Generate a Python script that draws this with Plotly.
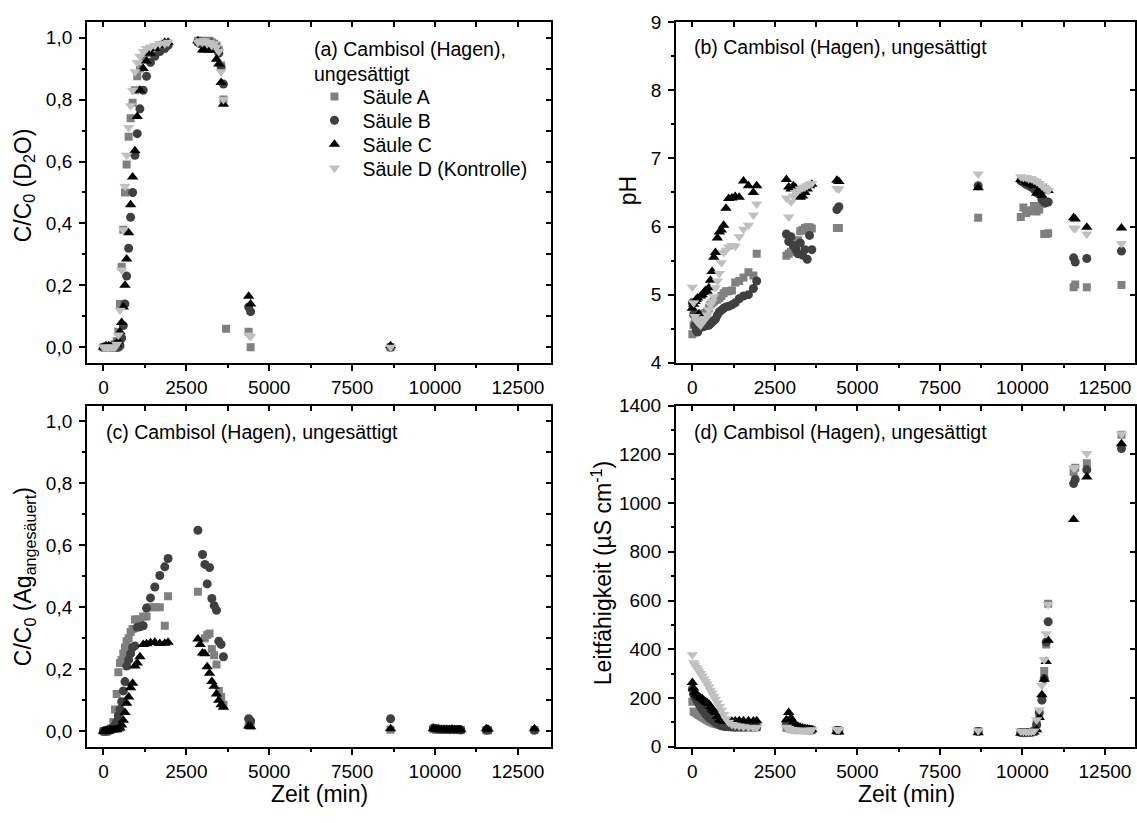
import plotly.graph_objects as go

# ---------------------------------------------------------------------------
# Sampling times (min), shared by the four columns
# ---------------------------------------------------------------------------
t_early = [0, 40, 80, 120, 160, 200, 250, 300, 350, 400, 450, 500, 550, 600, 650,
           700, 760, 820, 880, 950, 1020, 1100, 1200, 1300, 1420, 1550, 1700, 1850, 1950]
t_mid = [2850, 2920, 2990, 3060, 3130, 3200, 3270, 3340, 3410, 3480, 3550, 3620]
t_late = [3700, 4380, 4440, 8660, 9950, 10030, 10110, 10190, 10270, 10350, 10430,
          10510, 10590, 10660, 10720, 10780, 11550, 11600, 11950, 13000]
zeit = t_early + t_mid + t_late

N = None

# (a) D2O breakthrough, C/C0
d2o_A = [0.0, 0.0, 0.0, 0.0, 0.0, 0.0, 0.0, 0.005, 0.01, 0.02, 0.05, 0.14, 0.26, 0.38, 0.50,
         0.59, 0.68, 0.74, 0.79, 0.83, 0.875, 0.90, 0.93, 0.95, 0.96, 0.97, 0.975, 0.98, 0.98,
         0.99, 0.985, 0.99, 0.98, 0.985, 0.99, 0.985, 0.98, 0.975, 0.96, 0.91, 0.80,
         0.06, 0.05, 0.0, 0.0, N, N, N, N, N, N, N, N, N, N, N, N, N, N, N, N]
d2o_B = [0.0, 0.0, 0.0, 0.0, 0.0, 0.0, 0.0, 0.0, 0.0, 0.0, 0.0, 0.005, 0.03, 0.07, 0.14,
         0.23, 0.32, 0.42, 0.50, 0.62, 0.69, 0.77, 0.83, 0.875, 0.92, 0.94, 0.955, 0.965, 0.975,
         0.985, 0.98, 0.985, 0.98, 0.975, 0.985, 0.98, 0.975, 0.97, 0.95, 0.905, 0.85,
         N, 0.13, 0.115, 0.0, N, N, N, N, N, N, N, N, N, N, N, N, N, N, N, N]
d2o_C = [0.0, 0.0, 0.005, 0.0, 0.005, 0.0, 0.005, 0.005, 0.01, 0.01, 0.02, 0.05, 0.08, 0.13, 0.20,
         0.285, 0.37, 0.46, 0.55, 0.635, 0.745, 0.83, 0.90, 0.925, 0.95, 0.965, 0.975, 0.985, 0.985,
         0.99, 0.985, 0.96, 0.96, 0.965, 0.96, 0.96, 0.96, 0.93, 0.915, 0.855, 0.785,
         N, 0.165, 0.14, 0.005, N, N, N, N, N, N, N, N, N, N, N, N, N, N, N, N]
d2o_D = [0.0, 0.0, 0.0, 0.0, 0.0, 0.0, 0.0, 0.0, 0.0, 0.01, 0.04, 0.12, 0.25, 0.38, 0.52,
         0.62, 0.71, 0.78, 0.83, 0.89, 0.92, 0.94, 0.955, 0.965, 0.97, 0.975, 0.98, 0.98, 0.985,
         0.985, 0.99, 0.985, 0.99, 0.98, 0.985, 0.975, 0.98, 0.97, 0.955, 0.89, 0.80,
         N, 0.04, 0.035, 0.0, N, N, N, N, N, N, N, N, N, N, N, N, N, N, N, N]

# (b) pH
ph_A = [4.42, 4.55, 4.60, 4.62, 4.65, 4.60, 4.66, 4.70, 4.72, 4.73, 4.75, 4.80, 4.85, 4.88, 4.90,
        4.92, 4.93, 4.95, 4.98, 5.02, 5.05, 5.05, 5.06, 5.18, 5.20, 5.25, 5.33, 5.28, 5.60,
        5.57, 5.60, 5.63, 5.65, 5.74, 5.80, 5.93, 5.95, 5.98, 5.99, 5.99, 5.97,
        N, 5.98, 5.98, 6.13, 6.14, 6.28, 6.20, 6.22, 6.24, 6.30, 6.22, 6.25, 6.33, 5.89, 5.89,
        5.90, 5.11, 5.15, 5.11, 5.14]
ph_B = [4.88, 4.71, 4.55, 4.48, 4.45, 4.50, 4.52, 4.55, 4.53, 4.55, 4.55, 4.55, 4.57, 4.60, 4.62,
        4.64, 4.70, 4.75, 4.77, 4.80, 4.82, 4.83, 4.85, 4.88, 4.94, 4.98, 5.00, 5.09, 5.20,
        5.89, 5.78, 5.85, 5.72, 5.67, 5.60, 5.76, 5.58, 5.66, 5.52, 5.87, 5.66,
        N, 6.25, 6.29, 6.60, 6.67, 6.65, 6.62, 6.60, 6.58, 6.55, 6.50, 6.48, 6.40, 6.36, 6.35,
        6.36, 5.54, 5.48, 5.53, 5.64]
ph_C = [4.80, 4.86, 4.90, 4.93, 4.95, 4.72, 4.98, 5.00, 5.03, 5.06, 5.05, 5.10, 5.21, 5.34, 5.55,
        5.62, 5.83, 5.92, 5.95, 6.02, 6.27, 6.41, 6.42, 6.44, 6.43, 6.67, 6.60, 6.50, 6.60,
        6.69, 6.58, 6.55, 6.60, 6.57, 6.52, 6.43, 6.45, 6.50, 6.55, 6.60, 6.62,
        N, 6.68, 6.66, 6.57, 6.69, 6.68, 6.65, 6.63, 6.62, 6.60, 6.49, 6.55, 6.46, 6.52, 6.55,
        6.53, 6.13, 6.11, 5.99, 5.98]
ph_D = [5.11, 4.88, 4.68, 4.62, 4.60, 4.58, 4.55, 4.60, 4.64, 4.65, 4.70, 4.78, 4.85, 4.90, 4.97,
        5.10, 5.20, 5.31, 5.47, 5.62, 5.65, 5.70, 5.72, 5.71, 5.85, 5.96, 6.02, 6.17, 6.33,
        6.42, 6.14, 6.36, 6.45, 6.50, 6.52, 6.55, 6.57, 6.58, 6.60, 6.62, 6.63,
        N, 6.56, 6.55, 6.77, 6.73, 6.72, 6.72, 6.70, 6.70, 6.68, 6.66, 6.63, 6.60, 6.57, 6.55,
        6.53, 5.98, 5.97, 5.89, 5.75]

# (c) Ag (acidified), C/C0
ag_A = [0.0, 0.0, 0.0, 0.0, 0.003, 0.005, 0.01, 0.03, 0.07, 0.12, 0.19, 0.22, 0.23, 0.25, 0.27,
        0.29, 0.30, 0.32, 0.33, 0.36, 0.36, 0.36, 0.37, 0.37, 0.40, 0.40, 0.40, 0.34, 0.435,
        0.45, N, N, 0.30, 0.31, 0.315, 0.265, 0.245, 0.215, 0.13, 0.11, 0.085,
        N, 0.02, 0.018, 0.005, 0.006, 0.005, 0.005, 0.004, 0.004, 0.005, 0.004, 0.004, 0.005,
        0.004, 0.004, 0.004, 0.003, 0.003, N, 0.004]
ag_B = [0.0, 0.0, 0.003, 0.0, 0.005, 0.005, 0.008, 0.01, 0.02, 0.03, 0.05, 0.07, 0.095, 0.13, 0.16,
        0.21, 0.23, 0.25, 0.27, 0.275, 0.335, 0.337, 0.34, 0.397, 0.43, 0.465, 0.502, 0.53, 0.557,
        0.648, N, 0.57, 0.538, 0.475, 0.528, 0.428, 0.405, 0.39, 0.29, 0.28, 0.24,
        N, 0.04, 0.033, 0.04, 0.01, 0.008, 0.007, 0.006, 0.006, 0.006, 0.005, 0.006, 0.005,
        0.005, 0.005, 0.004, 0.004, 0.004, N, 0.003]
ag_C = [0.0, 0.0, 0.0, 0.003, 0.0, 0.005, 0.005, 0.005, 0.005, 0.005, 0.008, 0.01, 0.02, 0.035, 0.06,
        0.09, 0.11, 0.14, 0.155, 0.21, 0.22, 0.24, 0.28, 0.282, 0.285, 0.287, 0.283, 0.284, 0.287,
        0.297, 0.28, 0.252, 0.25, 0.208, 0.187, 0.16, 0.145, 0.12, 0.10, 0.085, 0.077,
        N, 0.017, 0.014, 0.008, 0.008, 0.007, 0.006, 0.005, 0.005, 0.005, 0.005, 0.006, 0.005,
        0.005, 0.005, 0.005, 0.008, 0.006, N, 0.008]

# (d) electrical conductivity (µS/cm)
ec_A = [185, 145, 142, 138, 134, 130, 126, 122, 118, 114, 110, 106, 102, 99, 96,
        94, 92, 90, 88, 86, 85, 84, 83, 82, 81, 80, 80, 80, 80,
        78, 76, 74, 72, 71, 70, 70, 69, 69, 68, 68, 68,
        N, 67, 66, 64, 60, 59, 58, 58, 59, 62, 95, 130, 200, 311, 420, 587, 1128, 1145, 1164, 1280]
ec_B = [236, 215, 205, 195, 185, 175, 165, 155, 145, 135, 127, 120, 115, 110, 105,
        100, 95, 90, 86, 84, 83, 82, 81, 80, 80, 80, 80, 80, 81,
        95, 92, 88, 84, 80, 77, 75, 73, 72, 72, 71, 70,
        N, 68, 67, 62, 58, 57, 57, 58, 59, 65, 90, 140, 191, 280, 430, 513, 1080, 1097, 1137, 1224]
ec_C = [264, 240, 224, 215, 210, 205, 200, 197, 190, 185, 180, 175, 165, 155, 148,
        140, 125, 111, 108, 105, 104, 104, 105, 106, 107, 107, 107, 106, 107,
        111, 140, 118, 100, 90, 84, 80, 77, 75, 73, 72, 70,
        N, 62, 60, 57, 55, 54, 54, 55, 56, 60, 70, 120, 213, 277, 350, 437, 933, N, 1107, 1244]
ec_D = [377, 345, 335, 325, 318, 310, 300, 290, 278, 268, 257, 245, 232, 220, 207,
        195, 180, 165, 150, 132, 115, 100, 91, 88, 85, 82, 79, 78, 79,
        80, 75, 71, 70, 69, 68, 68, 67, 67, 68, 68, 70,
        N, 71, 70, 66, 63, 62, 61, 61, 62, 64, 111, 151, 251, 357, 464, 584, 1144, 1146, 1204, 1284]

# Tick values and labels
x_tickvals = [0, 2500, 5000, 7500, 10000, 12500]
x_ticktext = ["0", "2500", "5000", "7500", "10000", "12500"]
c_tickvals = [0.0, 0.2, 0.4, 0.6, 0.8, 1.0]
c_ticktext = ["0,0", "0,2", "0,4", "0,6", "0,8", "1,0"]
ph_tickvals = [4, 5, 6, 7, 8, 9]
ph_ticktext = ["4", "5", "6", "7", "8", "9"]
ec_tickvals = [0, 200, 400, 600, 800, 1000, 1200, 1400]
ec_ticktext = ["0", "200", "400", "600", "800", "1000", "1200", "1400"]

column_names = ["Säule A", "Säule B", "Säule C", "Säule D (Kontrolle)"]

# ---------------------------------------------------------------------------
# Styling
# ---------------------------------------------------------------------------
W, H = 1137, 823
FONT = "Liberation Sans, Arial, Helvetica, sans-serif"
TICK_FONT = dict(family=FONT, size=19, color="black")
LABEL_SIZE = 19.5
TITLE_SIZE = 23
LW = 1.6

styles = [
    dict(symbol="square", color="#808080", size=8),
    dict(symbol="circle", color="#404040", size=9),
    dict(symbol="triangle-up", color="#000000", size=10),
    dict(symbol="triangle-down", color="#c0c0c0", size=10),
]
legend_ids = ["legend", "legend2", "legend3", "legend4"]
legend_rows = [89, 113.5, 138, 162.5]   # row centres (px from top)


def fx(px):
    return px / W


def fy(py):
    return 1 - py / H


left_dom = [fx(87), fx(552)]
right_dom = [fx(677), 1.0]
top_dom = [fy(362), fy(12.5)]
bot_dom = [fy(756), fy(406)]

panels = [
    dict(n="", dx=left_dom, dy=top_dom, xr=[-500, 13500], yr=[-0.05, 1.05],
         ys=[d2o_A, d2o_B, d2o_C, d2o_D], yt=(c_tickvals, c_ticktext), yminor=0.1, yright=0.1, y0=0),
    dict(n="2", dx=right_dom, dy=top_dom, xr=[-500, 13410], yr=[4, 9],
         ys=[ph_A, ph_B, ph_C, ph_D], yt=(ph_tickvals, ph_ticktext), yminor=0.5, yright=1, y0=4),
    dict(n="3", dx=left_dom, dy=bot_dom, xr=[-500, 13500], yr=[-0.05, 1.05],
         ys=[ag_A, ag_B, ag_C, None], yt=(c_tickvals, c_ticktext), yminor=0.1, yright=0.1, y0=0),
    dict(n="4", dx=right_dom, dy=bot_dom, xr=[-500, 13410], yr=[0, 1400],
         ys=[ec_A, ec_B, ec_C, ec_D], yt=(ec_tickvals, ec_ticktext), yminor=100, yright=200, y0=0),
]

fig = go.Figure()
layout = {}

for i, p in enumerate(panels):
    xa, ya = "x" + p["n"], "y" + p["n"]
    for k, vals in enumerate(p["ys"]):
        if vals is None:
            continue
        st = styles[k]
        fig.add_trace(go.Scatter(
            x=zeit, y=vals, xaxis=xa, yaxis=ya, mode="markers",
            name=column_names[k], legendgroup=column_names[k],
            legend=legend_ids[k], showlegend=(i == 0),
            marker=dict(symbol=st["symbol"], color=st["color"], size=st["size"],
                        line=dict(width=0)),
        ))

    # main axes: bottom / left, ticks pointing outwards
    layout["xaxis" + p["n"]] = dict(
        domain=p["dx"], range=p["xr"], anchor=ya,
        tickmode="array", tickvals=x_tickvals, ticktext=x_ticktext,
        ticks="outside", ticklen=6, tickwidth=LW, tickcolor="black",
        minor=dict(ticks="outside", ticklen=3, tickwidth=LW, tickcolor="black",
                   tick0=0, dtick=1250, showgrid=False),
        showline=True, linewidth=LW, linecolor="black", mirror=True,
        showgrid=False, zeroline=False, tickfont=TICK_FONT, ticklabelstandoff=1,
    )
    layout["yaxis" + p["n"]] = dict(
        domain=p["dy"], range=p["yr"], anchor=xa,
        tickmode="array", tickvals=p["yt"][0], ticktext=p["yt"][1],
        ticks="outside", ticklen=6, tickwidth=LW, tickcolor="black",
        minor=dict(ticks="outside", ticklen=3, tickwidth=LW, tickcolor="black",
                   tick0=p["y0"], dtick=p["yminor"], showgrid=False),
        showline=True, linewidth=LW, linecolor="black", mirror=True,
        showgrid=False, zeroline=False, tickfont=TICK_FONT, ticklabelstandoff=3,
    )

    # mirrored tick rows on top / right, pointing inwards
    tx = "x" + str(5 + i)
    ty = "y" + str(5 + i)
    layout["xaxis" + str(5 + i)] = dict(
        overlaying=xa, side="top", anchor=ya, range=p["xr"],
        tickmode="linear", tick0=0, dtick=1250,
        ticks="inside", ticklen=5, tickwidth=LW, tickcolor="black",
        showticklabels=False, showline=False, showgrid=False, zeroline=False,
    )
    layout["yaxis" + str(5 + i)] = dict(
        overlaying=ya, side="right", anchor=xa, range=p["yr"],
        tickmode="linear", tick0=p["y0"], dtick=p["yright"],
        ticks="inside", ticklen=5, tickwidth=LW, tickcolor="black",
        showticklabels=False, showline=False, showgrid=False, zeroline=False,
    )
    fig.add_trace(go.Scatter(x=[None], y=[None], xaxis=tx, yaxis=ya,
                             showlegend=False, hoverinfo="skip"))
    fig.add_trace(go.Scatter(x=[None], y=[None], xaxis=xa, yaxis=ty,
                             showlegend=False, hoverinfo="skip"))

# one single-entry legend per column, stacked inside panel (a)
for lid, row in zip(legend_ids, legend_rows):
    layout[lid] = dict(
        x=fx(307), y=fy(row), xanchor="left", yanchor="middle",
        bgcolor="rgba(0,0,0,0)", borderwidth=0, itemwidth=46,
        font=dict(family=FONT, size=LABEL_SIZE, color="black"),
    )


def note(text, x, y, size, angle=0, xanchor="center", yanchor="middle"):
    return dict(text=text, x=fx(x), y=fy(y), xref="paper", yref="paper",
                xanchor=xanchor, yanchor=yanchor, align="left", showarrow=False,
                textangle=angle, font=dict(family=FONT, size=size, color="black"))


annotations = [
    # axis titles
    note("C/C<sub>0</sub> (D<sub>2</sub>O)", 24, 180, TITLE_SIZE, -90),
    note("pH", 629, 185, TITLE_SIZE, -90),
    note("C/C<sub>0</sub> (Ag<sub>angesäuert</sub>)", 24, 581, TITLE_SIZE, -90),
    note("Leitfähigkeit (µS cm<sup>-1</sup>)", 603, 578, TITLE_SIZE, -90),
    note("Zeit (min)", 320, 805, TITLE_SIZE),
    note("Zeit (min)", 908, 805, TITLE_SIZE),
    # panel labels
    note("(a) Cambisol (Hagen),<br>ungesättigt", 313, 27, LABEL_SIZE,
         xanchor="left", yanchor="top"),
    note("(b) Cambisol (Hagen), ungesättigt", 693, 38, LABEL_SIZE, xanchor="left"),
    note("(c) Cambisol (Hagen), ungesättigt", 104, 433, LABEL_SIZE, xanchor="left"),
    note("(d) Cambisol (Hagen), ungesättigt", 693, 433, LABEL_SIZE, xanchor="left"),
]

fig.update_layout(
    width=W, height=H,
    margin=dict(l=0, r=0, t=0, b=0),
    paper_bgcolor="white", plot_bgcolor="white",
    font=dict(family=FONT, size=LABEL_SIZE, color="black"),
    showlegend=True,
    annotations=annotations,
    **layout,
)

fig.write_html("out.html")
